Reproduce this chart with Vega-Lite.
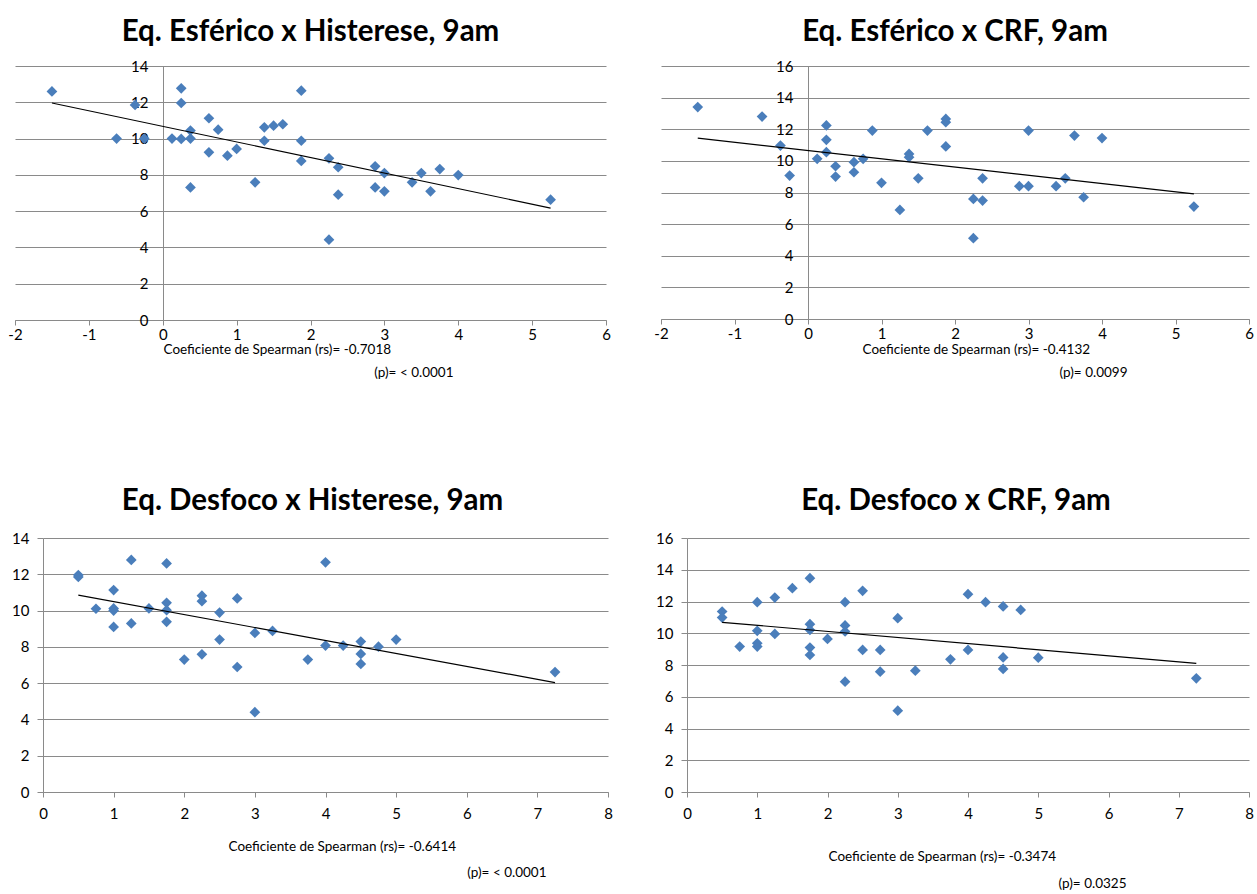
{
  "$schema": "https://vega.github.io/schema/vega-lite/v6.json",
  "autosize": {"type": "pad"},
  "padding": {"left": 7, "top": 16, "right": 0, "bottom": 0},
  "datasets": {
    "p1": [
      {"x": -1.5, "y": 12.6}, {"x": -0.625, "y": 10.0}, {"x": -0.375, "y": 11.85}, {"x": -0.25, "y": 10.0},
      {"x": 0.125, "y": 10.0}, {"x": 0.25, "y": 12.77}, {"x": 0.25, "y": 11.96}, {"x": 0.25, "y": 9.98},
      {"x": 0.375, "y": 10.44}, {"x": 0.375, "y": 10.0}, {"x": 0.375, "y": 7.31}, {"x": 0.625, "y": 11.12},
      {"x": 0.625, "y": 9.24}, {"x": 0.75, "y": 10.49}, {"x": 0.875, "y": 9.06}, {"x": 1.0, "y": 9.43},
      {"x": 1.25, "y": 7.59}, {"x": 1.375, "y": 10.62}, {"x": 1.375, "y": 9.88}, {"x": 1.5, "y": 10.71},
      {"x": 1.625, "y": 10.79}, {"x": 1.875, "y": 12.64}, {"x": 1.875, "y": 9.88}, {"x": 1.875, "y": 8.77},
      {"x": 2.25, "y": 8.91}, {"x": 2.25, "y": 4.43}, {"x": 2.375, "y": 8.42}, {"x": 2.375, "y": 6.91},
      {"x": 2.875, "y": 8.47}, {"x": 2.875, "y": 7.31}, {"x": 3.0, "y": 8.10}, {"x": 3.0, "y": 7.09},
      {"x": 3.375, "y": 7.59}, {"x": 3.5, "y": 8.10}, {"x": 3.625, "y": 7.09}, {"x": 3.75, "y": 8.32},
      {"x": 4.0, "y": 7.99}, {"x": 5.25, "y": 6.63}
    ],
    "t1": [{"x": -1.5, "y": 11.96}, {"x": 5.25, "y": 6.17}],
    "p2": [
      {"x": -1.5, "y": 13.4}, {"x": -0.625, "y": 12.8}, {"x": -0.375, "y": 10.97}, {"x": -0.25, "y": 9.07},
      {"x": 0.125, "y": 10.13}, {"x": 0.25, "y": 12.24}, {"x": 0.25, "y": 11.33}, {"x": 0.25, "y": 10.55},
      {"x": 0.375, "y": 9.66}, {"x": 0.375, "y": 9.01}, {"x": 0.625, "y": 9.92}, {"x": 0.625, "y": 9.28},
      {"x": 0.75, "y": 10.13}, {"x": 0.875, "y": 11.92}, {"x": 1.0, "y": 8.61}, {"x": 1.25, "y": 6.90},
      {"x": 1.375, "y": 10.44}, {"x": 1.375, "y": 10.23}, {"x": 1.5, "y": 8.90}, {"x": 1.625, "y": 11.92},
      {"x": 1.875, "y": 12.65}, {"x": 1.875, "y": 12.45}, {"x": 1.875, "y": 10.91}, {"x": 2.25, "y": 7.59},
      {"x": 2.25, "y": 5.11}, {"x": 2.375, "y": 8.90}, {"x": 2.375, "y": 7.49}, {"x": 2.875, "y": 8.40},
      {"x": 3.0, "y": 11.92}, {"x": 3.0, "y": 8.40}, {"x": 3.375, "y": 8.40}, {"x": 3.5, "y": 8.90},
      {"x": 3.625, "y": 11.60}, {"x": 3.75, "y": 7.70}, {"x": 4.0, "y": 11.44}, {"x": 5.25, "y": 7.11}
    ],
    "t2": [{"x": -1.5, "y": 11.44}, {"x": 5.25, "y": 7.91}],
    "p3": [
      {"x": 0.5, "y": 11.96}, {"x": 0.5, "y": 11.85}, {"x": 0.75, "y": 10.1}, {"x": 1.0, "y": 11.13},
      {"x": 1.0, "y": 10.12}, {"x": 1.0, "y": 10.0}, {"x": 1.0, "y": 9.1}, {"x": 1.25, "y": 12.79},
      {"x": 1.25, "y": 9.29}, {"x": 1.5, "y": 10.12}, {"x": 1.75, "y": 12.6}, {"x": 1.75, "y": 10.43},
      {"x": 1.75, "y": 10.02}, {"x": 1.75, "y": 9.38}, {"x": 2.0, "y": 7.3}, {"x": 2.25, "y": 10.82},
      {"x": 2.25, "y": 10.52}, {"x": 2.25, "y": 7.59}, {"x": 2.5, "y": 9.89}, {"x": 2.5, "y": 8.4},
      {"x": 2.75, "y": 10.67}, {"x": 2.75, "y": 6.89}, {"x": 3.0, "y": 8.77}, {"x": 3.0, "y": 4.4},
      {"x": 3.25, "y": 8.88}, {"x": 3.75, "y": 7.3}, {"x": 4.0, "y": 12.66}, {"x": 4.0, "y": 8.07},
      {"x": 4.25, "y": 8.07}, {"x": 4.5, "y": 8.29}, {"x": 4.5, "y": 7.61}, {"x": 4.5, "y": 7.06},
      {"x": 4.75, "y": 8.01}, {"x": 5.0, "y": 8.4}, {"x": 7.25, "y": 6.61}
    ],
    "t3": [{"x": 0.5, "y": 10.85}, {"x": 7.25, "y": 6.03}],
    "p4": [
      {"x": 0.5, "y": 11.37}, {"x": 0.5, "y": 10.99}, {"x": 0.75, "y": 9.16}, {"x": 1.0, "y": 11.96},
      {"x": 1.0, "y": 10.15}, {"x": 1.0, "y": 9.37}, {"x": 1.0, "y": 9.16}, {"x": 1.25, "y": 12.25},
      {"x": 1.25, "y": 9.96}, {"x": 1.5, "y": 12.84}, {"x": 1.75, "y": 13.47}, {"x": 1.75, "y": 10.57},
      {"x": 1.75, "y": 10.21}, {"x": 1.75, "y": 9.10}, {"x": 1.75, "y": 8.63}, {"x": 2.0, "y": 9.64},
      {"x": 2.25, "y": 11.96}, {"x": 2.25, "y": 10.49}, {"x": 2.25, "y": 10.11}, {"x": 2.25, "y": 6.95},
      {"x": 2.5, "y": 12.67}, {"x": 2.5, "y": 8.95}, {"x": 2.75, "y": 8.95}, {"x": 2.75, "y": 7.58},
      {"x": 3.0, "y": 10.95}, {"x": 3.0, "y": 5.12}, {"x": 3.25, "y": 7.64}, {"x": 3.75, "y": 8.36},
      {"x": 4.0, "y": 12.46}, {"x": 4.0, "y": 8.95}, {"x": 4.25, "y": 11.96}, {"x": 4.5, "y": 11.69},
      {"x": 4.5, "y": 8.48}, {"x": 4.5, "y": 7.75}, {"x": 4.75, "y": 11.47}, {"x": 5.0, "y": 8.46},
      {"x": 7.25, "y": 7.16}
    ],
    "t4": [{"x": 0.5, "y": 10.69}, {"x": 7.25, "y": 8.10}]
  },
  "concat": [
    {
      "spacing": 42,
      "hconcat": [
        {
          "width": 591, "height": 254,
          "title": {"text": "Eq. Esférico x Histerese, 9am"},
          "encoding": {
            "x": {"field": "x", "type": "quantitative",
              "scale": {"domain": [-2, 6], "nice": false, "zero": false},
              "axis": {"values": [-2, -1, 0, 1, 2, 3, 4, 5, 6], "grid": false, "tickSize": 5, "labelPadding": 2,
                "labelExpr": "'' + datum.value",
                "title": "Coeficiente de Spearman (rs)= -0.7018", "titleX": 148, "titleY": 29,
                "titleAlign": "left", "titleBaseline": "middle", "titleAnchor": null}},
            "y": {"field": "y", "type": "quantitative",
              "scale": {"domain": [0, 14], "nice": false, "zero": false},
              "axis": {"values": [0, 2, 4, 6, 8, 10, 12, 14], "grid": true, "offset": -148, "tickSize": 6, "labelPadding": 9,
                "title": "(p)= < 0.0001", "titleAngle": 0, "titleX": 290, "titleY": 306,
                "titleAlign": "right", "titleBaseline": "middle", "titleAnchor": null}}
          },
          "layer": [
            {"data": {"name": "p1"}, "mark": {"type": "point", "shape": "diamond", "filled": true, "color": "#4A7EBB", "size": 115, "opacity": 1}},
            {"data": {"name": "t1"}, "mark": {"type": "line", "color": "#000000", "strokeWidth": 1.2}}
          ]
        },
        {
          "width": 588, "height": 253,
          "title": {"text": "Eq. Esférico x CRF, 9am"},
          "encoding": {
            "x": {"field": "x", "type": "quantitative",
              "scale": {"domain": [-2, 6], "nice": false, "zero": false},
              "axis": {"values": [-2, -1, 0, 1, 2, 3, 4, 5, 6], "grid": false, "tickSize": 5, "labelPadding": 2,
                "labelExpr": "'' + datum.value",
                "title": "Coeficiente de Spearman (rs)= -0.4132", "titleX": 201, "titleY": 30,
                "titleAlign": "left", "titleBaseline": "middle", "titleAnchor": null}},
            "y": {"field": "y", "type": "quantitative",
              "scale": {"domain": [0, 16], "nice": false, "zero": false},
              "axis": {"values": [0, 2, 4, 6, 8, 10, 12, 14, 16], "grid": true, "offset": -147, "tickSize": 6, "labelPadding": 9,
                "title": "(p)= 0.0099", "titleAngle": 0, "titleX": 319, "titleY": 306,
                "titleAlign": "right", "titleBaseline": "middle", "titleAnchor": null}}
          },
          "layer": [
            {"data": {"name": "p2"}, "mark": {"type": "point", "shape": "diamond", "filled": true, "color": "#4A7EBB", "size": 115, "opacity": 1}},
            {"data": {"name": "t2"}, "mark": {"type": "line", "color": "#000000", "strokeWidth": 1.2}}
          ]
        }
      ]
    },
    {
      "spacing": 40,
      "hconcat": [
        {
          "width": 593, "height": 254,
          "title": {"text": "Eq. Desfoco x Histerese, 9am", "dx": 1, "offset": 15},
          "encoding": {
            "x": {"field": "x", "type": "quantitative",
              "scale": {"domain": [0, 8], "nice": false, "zero": false, "range": [28, 593]},
              "axis": {"values": [0, 1, 2, 3, 4, 5, 6, 7, 8], "grid": false, "tickSize": 5, "labelPadding": 9,
                "labelExpr": "'' + datum.value",
                "title": "Coeficiente de Spearman (rs)= -0.6414", "titleX": 213, "titleY": 54,
                "titleAlign": "left", "titleBaseline": "middle", "titleAnchor": null}},
            "y": {"field": "y", "type": "quantitative",
              "scale": {"domain": [0, 14], "nice": false, "zero": false},
              "axis": {"values": [0, 2, 4, 6, 8, 10, 12, 14], "grid": true, "offset": -28, "tickSize": 6, "labelPadding": 8, "minExtent": 0,
                "title": "(p)= < 0.0001", "titleAngle": 0, "titleX": 503, "titleY": 334,
                "titleAlign": "right", "titleBaseline": "middle", "titleAnchor": null}}
          },
          "layer": [
            {"data": {"name": "p3"}, "mark": {"type": "point", "shape": "diamond", "filled": true, "color": "#4A7EBB", "size": 115, "opacity": 1}},
            {"data": {"name": "t3"}, "mark": {"type": "line", "color": "#000000", "strokeWidth": 1.2}}
          ]
        },
        {
          "width": 562, "height": 254,
          "title": {"text": "Eq. Desfoco x CRF, 9am", "dx": -12, "offset": 15},
          "encoding": {
            "x": {"field": "x", "type": "quantitative",
              "scale": {"domain": [0, 8], "nice": false, "zero": false},
              "axis": {"values": [0, 1, 2, 3, 4, 5, 6, 7, 8], "grid": false, "tickSize": 5, "labelPadding": 9,
                "labelExpr": "'' + datum.value",
                "title": "Coeficiente de Spearman (rs)= -0.3474", "titleX": 141, "titleY": 64,
                "titleAlign": "left", "titleBaseline": "middle", "titleAnchor": null}},
            "y": {"field": "y", "type": "quantitative",
              "scale": {"domain": [0, 16], "nice": false, "zero": false},
              "axis": {"values": [0, 2, 4, 6, 8, 10, 12, 14, 16], "grid": true, "tickSize": 6, "labelPadding": 8, "minExtent": 34,
                "title": "(p)= 0.0325", "titleAngle": 0, "titleX": 439, "titleY": 345,
                "titleAlign": "right", "titleBaseline": "middle", "titleAnchor": null}}
          },
          "layer": [
            {"data": {"name": "p4"}, "mark": {"type": "point", "shape": "diamond", "filled": true, "color": "#4A7EBB", "size": 115, "opacity": 1}},
            {"data": {"name": "t4"}, "mark": {"type": "line", "color": "#000000", "strokeWidth": 1.2}}
          ]
        }
      ]
    }
  ],
  "columns": 1,
  "align": "none",
  "spacing": 106,
  "config": {
    "view": {"stroke": null},
    "font": "Lato",
    "axis": {
      "labelFont": "Lato", "labelFontSize": 15, "labelColor": "#000000",
      "domainColor": "#8a8a8a", "tickColor": "#8a8a8a", "gridColor": "#8a8a8a", "gridOpacity": 1,
      "domainWidth": 1, "tickWidth": 1, "gridWidth": 1,
      "titleFont": "Lato", "titleFontSize": 13.5, "titleFontWeight": "normal", "titleColor": "#000000",
      "labelFlush": false, "labelOverlap": false
    },
    "title": {"font": "Lato", "fontSize": 29.5, "fontWeight": "bold", "color": "#000000", "frame": "group", "baseline": "alphabetic", "offset": 12, "anchor": "middle"}
  }
}
